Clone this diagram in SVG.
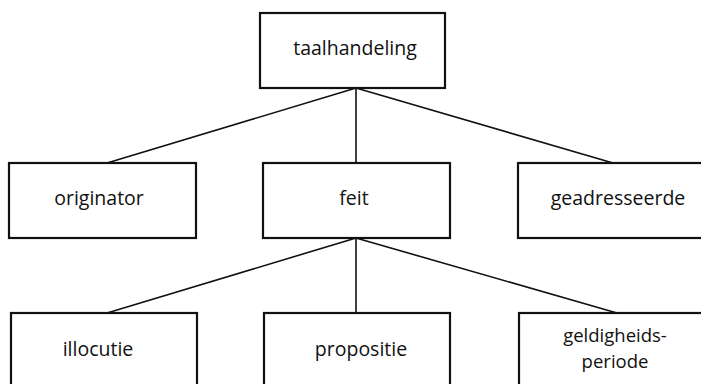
<svg xmlns="http://www.w3.org/2000/svg" width="701" height="384" viewBox="0 0 701 384">
  <style>
    .box { fill: #fff; stroke: #111; stroke-width: 2.2; }
    .lbl { font-family: "Open Sans", "Noto Sans", sans-serif; font-size: 19.5px; fill: #111; text-anchor: middle; }
    .two { font-size: 18.5px; }
    .edge { stroke: #111; stroke-width: 1.6; fill: none; }
  </style>
  <rect width="701" height="384" fill="#fff"/>

  <!-- connectors -->
  <g id="connectors">
    <line class="edge" x1="356" y1="88" x2="107" y2="163"/>
    <line class="edge" x1="356" y1="88" x2="356" y2="163"/>
    <line class="edge" x1="356" y1="88" x2="613" y2="163"/>
    <line class="edge" x1="356" y1="238" x2="107" y2="313"/>
    <line class="edge" x1="356" y1="238" x2="356" y2="313"/>
    <line class="edge" x1="356" y1="238" x2="617" y2="313"/>
  </g>

  <g id="taalhandeling">
    <rect class="box" x="260" y="13" width="185" height="75"/>
    <text class="lbl" x="355" y="55">taalhandeling</text>
  </g>

  <g id="originator">
    <rect class="box" x="9" y="163" width="187" height="75"/>
    <text class="lbl" x="99" y="205">originator</text>
  </g>

  <g id="feit">
    <rect class="box" x="263" y="163" width="187" height="75"/>
    <text class="lbl" x="354" y="205">feit</text>
  </g>

  <g id="geadresseerde">
    <rect class="box" x="518" y="163" width="190" height="75"/>
    <text class="lbl" x="618" y="205">geadresseerde</text>
  </g>

  <g id="illocutie">
    <rect class="box" x="11" y="313" width="186" height="80"/>
    <text class="lbl" x="98" y="356">illocutie</text>
  </g>

  <g id="propositie">
    <rect class="box" x="264" y="313" width="186" height="80"/>
    <text class="lbl" x="361" y="356">propositie</text>
  </g>

  <g id="geldigheidsperiode">
    <rect class="box" x="519" y="313" width="190" height="80"/>
    <text class="lbl two" x="615" y="342">geldigheids-</text>
    <text class="lbl two" x="615" y="368">periode</text>
  </g>
</svg>
